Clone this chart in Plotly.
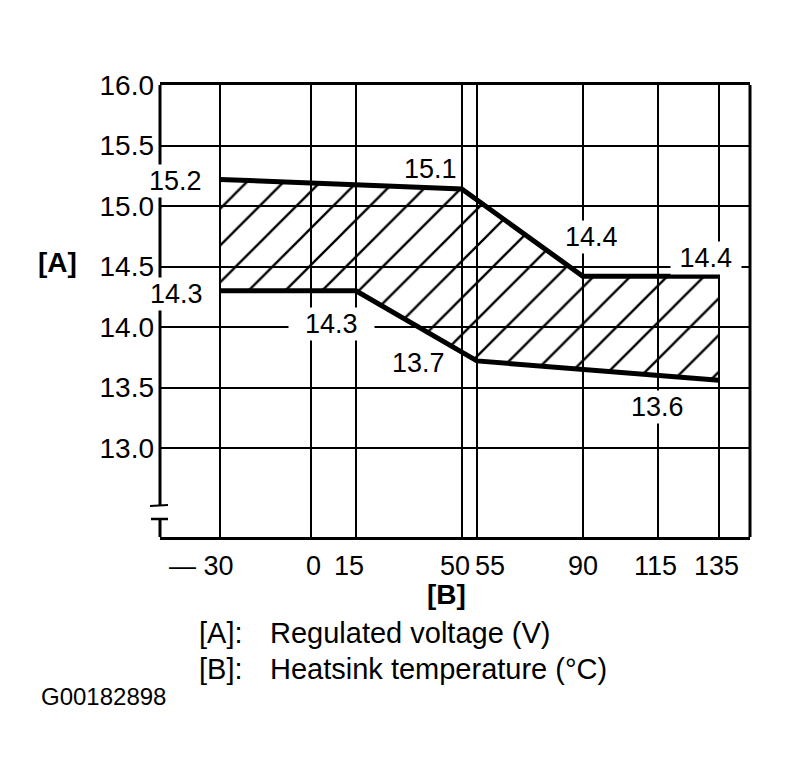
import plotly.graph_objects as go

# 数据：散热片温度 [B] (°C) 与调节电压 [A] (V)
temp_ticks = [-30, 0, 15, 50, 55, 90, 115, 135]
temp_ticktext = ["— 30", "0", "15", "50", "55", "90", "115", "135"]
volt_ticks = [13.0, 13.5, 14.0, 14.5, 15.0, 15.5, 16.0]

upper_t = [-30, 50, 90, 135]
upper_v = [15.22, 15.14, 14.42, 14.42]
lower_t = [-30, 15, 55, 135]
lower_v = [14.30, 14.30, 13.72, 13.56]

label_t = [-30, -30, 50, 90, 135, 15, 55, 135]
label_v = [15.2, 14.3, 15.1, 14.4, 14.4, 14.3, 13.7, 13.6]
label_text = ["15.2", "14.3", "15.1", "14.4", "14.4", "14.3", "13.7", "13.6"]

# 标注的样式（偏移 px、是否白底、左右留白）
label_dx = [-44, -43, -31, 9, -13, -24, -58, -61]
label_dy = [1, -3, 25, 42, 21, -33, 0, -32]
label_bg = [True, True, False, True, True, True, False, True]
label_pad = [0, 0, 0, 0, 1, 2, 0, 0]
tick_dx = [-18, 3, -7, -7, 13, 0, -3, -2]

FONT = "Liberation Sans, Arial, Helvetica, sans-serif"

# 参考图中的绘图区像素位置；页面 body 自带 8px 边距
OFF = 8
L, R, T, B = 160, 750, 85, 537
W, H = 790 - OFF, 783 - OFF


def px_x(px):
    return (px - L) / (R - L)


def px_y(py):
    return (B - py) / (B - T)


fig = go.Figure()

# 阴影区域（斜线）
fig.add_trace(go.Scatter(
    x=upper_t + lower_t[::-1],
    y=upper_v + lower_v[::-1],
    fill="toself",
    mode="lines",
    line=dict(width=0),
    fillcolor="rgba(255,255,255,0)",
    fillpattern=dict(shape="/", size=26, solidity=0.09, fillmode="replace",
                     fgcolor="#000000", fgopacity=1, bgcolor="rgba(255,255,255,0)"),
    opacity=1,
    hoverinfo="skip",
))

for xs, ys in [(upper_t, upper_v), (lower_t, lower_v)]:
    fig.add_trace(go.Scatter(
        x=xs, y=ys, mode="lines",
        line=dict(color="black", width=5),
        hoverinfo="skip",
    ))

annotations = []
for t, v, txt, dx, dy, bg, pad in zip(label_t, label_v, label_text,
                                        label_dx, label_dy, label_bg, label_pad):
    sp = "\u00a0" * pad
    annotations.append(dict(
        x=t, y=v, text=sp + txt + sp, showarrow=False, xshift=dx, yshift=dy,
        xanchor="center", yanchor="middle",
        font=dict(size=27, color="black", family=FONT),
        bgcolor="white" if bg else "rgba(0,0,0,0)", borderpad=1,
    ))

# x 轴刻度文字
for t, txt, dx in zip(temp_ticks, temp_ticktext, tick_dx):
    annotations.append(dict(
        x=t, y=px_y(566), yref="paper", text=txt, showarrow=False, xshift=dx,
        xanchor="center", yanchor="middle",
        font=dict(size=27, color="black", family=FONT),
    ))


def note(px, py, text, size=29, anchor="left"):
    return dict(x=px_x(px), y=px_y(py), xref="paper", yref="paper", text=text,
                xanchor=anchor, yanchor="middle", showarrow=False,
                font=dict(size=size, color="black", family=FONT))


# 轴标题与说明
annotations += [
    note(57, 262, "<b>[A]</b>", 28, "center"),
    note(446, 594, "<b>[B]</b>", 28, "center"),
    note(197, 633, "[A]:"),
    note(268, 633, "Regulated voltage (V)"),
    note(197, 669, "[B]:"),
    note(268, 669, "Heatsink temperature (°C)"),
    note(39, 696, "G00182898", 24),
]

# 边框：左侧带断轴符号
line_k = dict(color="black", width=3)
shapes = [
    dict(type="line", xref="paper", yref="paper", x0=0, x1=0, y0=1, y1=px_y(506), line=line_k),
    dict(type="line", xref="paper", yref="paper", x0=px_x(150), x1=px_x(168),
         y0=px_y(506), y1=px_y(505), line=dict(color="black", width=2)),
    dict(type="line", xref="paper", yref="paper", x0=px_x(151), x1=px_x(168),
         y0=px_y(519), y1=px_y(519), line=dict(color="black", width=2.5)),
    dict(type="line", xref="paper", yref="paper", x0=0, x1=0, y0=px_y(519), y1=0, line=line_k),
    dict(type="line", xref="paper", yref="paper", x0=1, x1=1, y0=0, y1=1, line=line_k),
]

fig.update_layout(
    width=W, height=H,
    margin=dict(l=L - OFF, r=W - (R - OFF), t=T - OFF, b=H - (B - OFF)),
    paper_bgcolor="white", plot_bgcolor="white",
    showlegend=False,
    font=dict(family=FONT, color="black", size=27),
    annotations=annotations,
    shapes=shapes,
    xaxis=dict(
        range=[-49.8, 145.3], tickvals=temp_ticks, showticklabels=False,
        showgrid=True, gridcolor="black", gridwidth=1.6,
        zeroline=False, showline=True, mirror=True, linecolor="black", linewidth=3,
        ticks="",
    ),
    yaxis=dict(
        range=[12.265, 16.0], tickvals=volt_ticks, ticktext=[f"{v:.1f}" for v in volt_ticks],
        showgrid=True, gridcolor="black", gridwidth=1.6,
        zeroline=False, showline=False, ticks="", ticklabelstandoff=5,
        tickfont=dict(size=28),
    ),
)

fig.write_html("out.html")
